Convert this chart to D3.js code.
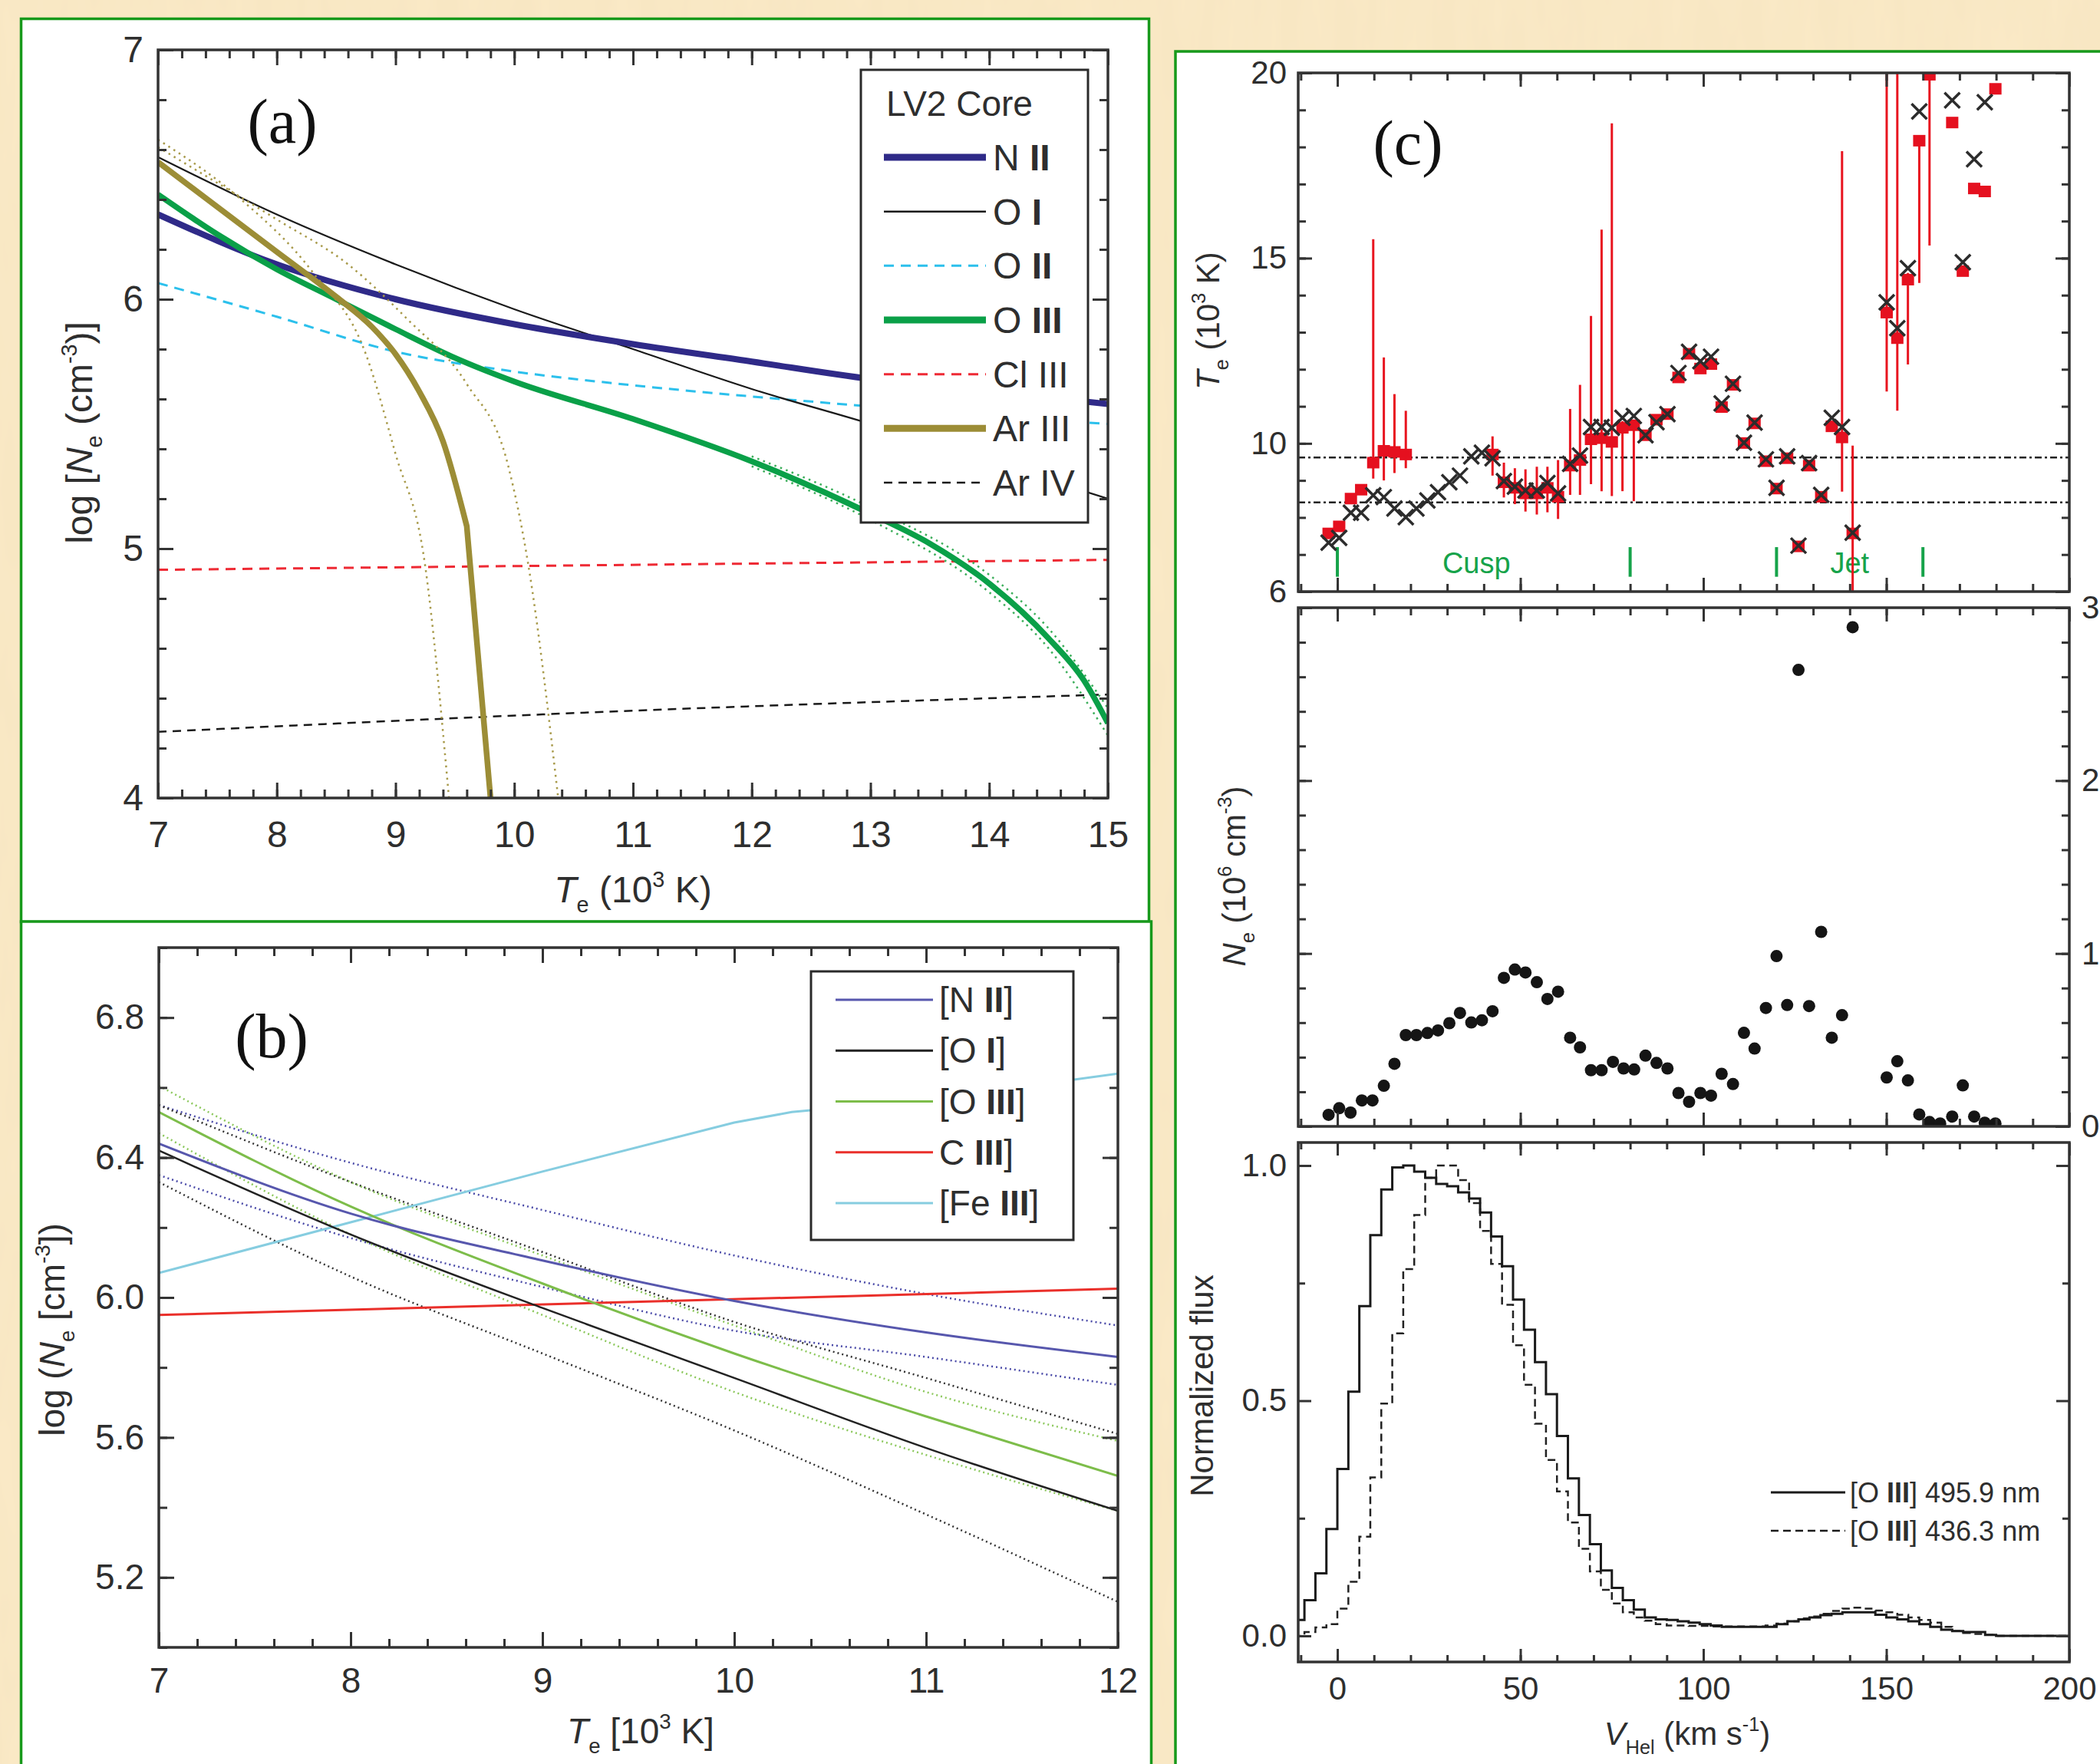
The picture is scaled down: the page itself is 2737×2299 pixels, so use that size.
<!DOCTYPE html>
<html>
<head>
<meta charset="utf-8">
<script src="https://cdn.jsdelivr.net/npm/d3@7"></script>
<style>
  body { margin: 0; background: #fae9c6; }
  svg { display: block; }
</style>
</head>
<body>
<div id="chart"></div>
<script>
// ---------- panel (a): log Ne vs Te, LV2 core ----------
const teA = [7, 8, 9, 10, 11, 12, 13, 14, 15];
const nIIa = [6.34, 6.14, 6.00, 5.90, 5.82, 5.75, 5.68, 5.63, 5.58];
const oIa = [6.57, 6.34, 6.14, 5.96, 5.80, 5.64, 5.50, 5.35, 5.20];
const oIIa = [6.065, 5.93, 5.79, 5.71, 5.655, 5.61, 5.57, 5.53, 5.50];
const teLinA = [7, 15];
const clIIIa = [4.915, 4.955];
const teArIV = [7, 11, 15];
const arIVa = [4.265, 4.35, 4.415];
const teOIIIa = [7, 7.5, 8, 8.5, 9, 9.5, 10, 11, 12, 13, 13.5, 14, 14.5, 14.8, 15];
const oIIIa = [6.42, 6.26, 6.12, 6.0, 5.88, 5.765, 5.67, 5.52, 5.35, 5.14, 5.02, 4.86, 4.64, 4.47, 4.30];
const teOIIIband = [12, 13, 14, 14.5, 15];
const oIIIaHi = [5.37, 5.165, 4.895, 4.68, 4.36];
const oIIIaLo = [5.33, 5.115, 4.825, 4.60, 4.25];
const teArIII = [7, 7.5, 8, 8.5, 8.8, 9, 9.2, 9.4, 9.6, 9.8];
const arIIIa = [6.55, 6.37, 6.19, 6.01, 5.89, 5.78, 5.63, 5.43, 5.09, 4.0];
const teArLo = [7, 7.7, 8.3, 8.75, 9.0, 9.25, 9.45];
const arIIIaLo = [6.64, 6.40, 6.11, 5.78, 5.38, 4.93, 4.0];
const teArHi = [7, 8, 8.6, 9.1, 9.6, 9.95, 10.12, 10.37];
const arIIIaHi = [6.61, 6.32, 6.14, 5.92, 5.66, 5.33, 4.93, 4.0];

// ---------- panel (b) ----------
const teB = [7, 8, 9, 10, 11, 12];
const nIIb = [6.44, 6.24, 6.106, 5.99, 5.90, 5.83];
const nIIbHi = [6.55, 6.385, 6.25, 6.12, 6.01, 5.92];
const nIIbLo = [6.35, 6.17, 6.03, 5.905, 5.83, 5.75];
const oIb = [6.42, 6.18, 5.97, 5.77, 5.57, 5.39];
const oIbHi = [6.55, 6.33, 6.13, 5.93, 5.77, 5.61];
const oIbLo = [6.33, 6.06, 5.84, 5.62, 5.38, 5.13];
const oIIIb = [6.53, 6.26, 6.04, 5.84, 5.66, 5.49];
const oIIIbHi = [6.605, 6.33, 6.12, 5.92, 5.73, 5.59];
const oIIIbLo = [6.47, 6.18, 5.95, 5.73, 5.55, 5.39];
const teLinB = [7, 12];
const cIIIb = [5.95, 6.025];
const teFe = [7, 8, 9, 10, 10.3, 11, 12];
const feIIIb = [6.07, 6.215, 6.36, 6.50, 6.53, 6.565, 6.64];

// ---------- panel (c) top: Te per velocity bin [V, Te, errLo, errHi] ----------
const teSquares = [
  [-2.4, 7.57], [0.5, 7.76], [3.7, 8.51], [6.5, 8.75], [9.8, 9.48, 9.05, 15.51],
  [12.7, 9.8, 9.0, 12.32], [15.6, 9.77, 9.2, 11.33], [18.7, 9.7, 9.33, 10.88],
  [42.4, 9.7, 9.13, 10.19], [45.5, 8.95, 8.54, 9.48], [48.5, 8.8, 8.36, 9.33],
  [51.4, 8.65, 8.16, 9.3], [54.5, 8.65, 8.08, 9.37], [57.4, 8.8, 8.14, 9.37],
  [60.3, 8.56, 7.96, 9.55], [63.6, 9.4, 8.61, 10.93], [66.3, 9.55, 8.61, 11.58],
  [69.3, 10.11, 8.9, 13.44], [72.2, 10.14, 8.71, 15.77], [75.0, 10.04, 8.58, 18.64],
  [77.9, 10.42, 8.71, 10.6], [81.0, 10.49, 8.44, 10.6], [84.2, 10.22], [87.2, 10.64],
  [90.2, 10.79], [93.2, 11.78], [96.1, 12.42], [99.2, 12.02], [102.1, 12.14],
  [105.0, 10.98], [108.1, 11.58], [111.1, 10.01], [114.0, 10.54], [117.1, 9.52],
  [120.0, 8.78], [122.9, 9.6], [126.0, 7.22], [128.9, 9.4], [132.2, 8.56],
  [135.1, 10.46], [137.9, 10.16, 8.7, 17.89], [140.8, 7.57, 5.5, 9.94],
  [150.1, 13.53, 11.4, 21], [153.0, 12.84, 10.88, 21], [155.9, 14.42, 12.13, 14.6],
  [159.0, 18.17, 14.33, 18.2], [161.8, 19.95, 15.34, 20], [168.0, 18.66],
  [170.9, 14.65], [174.0, 16.88], [176.9, 16.80], [179.8, 19.57]
];
const teCrosses = [
  [-2.4, 7.32], [0.5, 7.45], [3.7, 8.13], [6.5, 8.13], [9.8, 8.6], [12.7, 8.55],
  [15.6, 8.24], [18.7, 8.01], [21.6, 8.24], [24.6, 8.46], [27.5, 8.68], [30.6, 8.95],
  [33.5, 9.13], [36.6, 9.65], [39.5, 9.75], [42.4, 9.6], [45.5, 8.98], [48.5, 8.83],
  [51.4, 8.73], [54.5, 8.73], [57.4, 8.93], [60.3, 8.65], [63.6, 9.45], [66.3, 9.67],
  [69.3, 10.44], [72.2, 10.44], [75.0, 10.42], [77.9, 10.69], [81.0, 10.74],
  [84.2, 10.22], [87.2, 10.57], [90.2, 10.79], [93.2, 11.9], [96.1, 12.47],
  [99.2, 12.22], [102.1, 12.34], [105.0, 11.08], [108.1, 11.61], [111.1, 10.02],
  [114.0, 10.56], [117.1, 9.57], [120.0, 8.80], [122.9, 9.65], [126.0, 7.24],
  [128.9, 9.47], [132.2, 8.61], [135.1, 10.69], [137.9, 10.44], [140.8, 7.59],
  [150.1, 13.81], [153.0, 13.11], [155.9, 14.73], [159.0, 18.96], [168.0, 19.26],
  [170.9, 14.89], [174.0, 17.67], [176.9, 19.21]
];
const teRefLines = [9.62, 8.41];
const regionMarks = [0, 80, 120, 160];
const regionNames = [["Cusp", 38], ["Jet", 140]];

// ---------- panel (c) middle: Ne ----------
const nePoints = [
  [-2.4, 0.067], [0.5, 0.105], [3.6, 0.08], [6.7, 0.15], [9.6, 0.15], [12.7, 0.235],
  [15.6, 0.362], [18.7, 0.528], [21.6, 0.528], [24.6, 0.54], [27.5, 0.555], [30.6, 0.597],
  [33.5, 0.656], [36.6, 0.601], [39.5, 0.614], [42.4, 0.666], [45.5, 0.859], [48.5, 0.907],
  [51.4, 0.89], [54.5, 0.834], [57.4, 0.737], [60.3, 0.779], [63.6, 0.513], [66.3, 0.457],
  [69.3, 0.325], [72.2, 0.325], [75.3, 0.373], [78.2, 0.335], [81.1, 0.329], [84.2, 0.409],
  [87.2, 0.367], [90.2, 0.335], [93.2, 0.193], [96.1, 0.142], [99.2, 0.193], [102.1, 0.178],
  [105.0, 0.304], [108.1, 0.245], [111.1, 0.541], [114.0, 0.45], [117.1, 0.685], [120.0, 0.985],
  [122.9, 0.702], [126.0, 2.64], [128.9, 0.696], [132.2, 1.125], [135.1, 0.513], [137.9, 0.643],
  [140.8, 2.887], [150.1, 0.283], [153.0, 0.377], [155.9, 0.266], [159.0, 0.069], [161.8, 0.025],
  [164.7, 0.017], [168.0, 0.057], [170.9, 0.237], [174.0, 0.057], [176.9, 0.021], [179.8, 0.017]
];

// ---------- panel (c) bottom: line profiles ----------
const velBins = [-12, -9, -6, -3, 0, 3, 6, 9, 12, 15, 18, 21, 24, 27, 30, 33, 36, 39, 42, 45,
  48, 51, 54, 57, 60, 63, 66, 69, 72, 75, 78, 81, 84, 87, 90, 93, 96, 99, 102, 105,
  108, 111, 114, 117, 120, 123, 126, 129, 132, 135, 138, 141, 144, 147, 150, 153, 156, 159, 162, 165,
  168, 171, 174, 177, 180, 183, 186, 189, 192, 195, 198, 201];
const flux4959 = [0.034, 0.076, 0.133, 0.227, 0.355, 0.519, 0.701, 0.852, 0.949, 0.996, 1.0, 0.987, 0.974, 0.961, 0.956, 0.943, 0.93, 0.9, 0.849, 0.786,
  0.715, 0.651, 0.582, 0.514, 0.425, 0.335, 0.257, 0.195, 0.139, 0.102, 0.076, 0.056, 0.039, 0.035, 0.034, 0.031, 0.028, 0.025, 0.022, 0.019,
  0.019, 0.019, 0.019, 0.019, 0.025, 0.031, 0.035, 0.039, 0.044, 0.047, 0.05, 0.05, 0.05, 0.045, 0.039, 0.035, 0.031, 0.025, 0.019, 0.013,
  0.01, 0.008, 0.008, 0.002, 0, 0, 0, 0, 0, 0, 0, 0];
const flux4363 = [0.0, 0.008, 0.018, 0.025, 0.058, 0.115, 0.211, 0.337, 0.494, 0.643, 0.78, 0.895, 0.974, 1.0, 1.0, 0.969, 0.92, 0.861, 0.791, 0.704,
  0.618, 0.534, 0.451, 0.374, 0.307, 0.241, 0.185, 0.137, 0.098, 0.069, 0.05, 0.039, 0.032, 0.025, 0.022, 0.022, 0.021, 0.021, 0.02, 0.02,
  0.02, 0.02, 0.02, 0.022, 0.026, 0.031, 0.037, 0.041, 0.047, 0.053, 0.058, 0.06, 0.058, 0.054, 0.05, 0.045, 0.039, 0.034, 0.028, 0.019,
  0.01, 0.006, 0.004, 0.002, 0, 0, 0, 0, 0, 0, 0, 0];

const font = '"Liberation Sans", Arial, Helvetica, sans-serif';
const serif = '"Liberation Serif", "Times New Roman", serif';
const ink = "#2e2e2e";

const svg = d3.select("#chart").append("svg").attr("width", 2737).attr("height", 2299);
const defs = svg.append("defs");

// parchment background
const paper = defs.append("filter").attr("id", "paper").attr("x", 0).attr("y", 0).attr("width", "100%").attr("height", "100%");
paper.append("feTurbulence").attr("type", "fractalNoise").attr("baseFrequency", "0.03 0.006").attr("numOctaves", 3).attr("seed", 4);
paper.append("feColorMatrix").attr("type", "matrix")
  .attr("values", "0 0 0 0 0.86  0 0 0 0 0.72  0 0 0 0 0.46  0 0 0 0.32 -0.06");
svg.append("rect").attr("width", 2737).attr("height", 2299).attr("fill", "#fae9c6");
svg.append("rect").attr("width", 2737).attr("height", 2299).attr("filter", "url(#paper)");

// white panel frames with green border
const frames = [[27.5, 24.5, 1470, 1177], [27.5, 1201, 1473, 1200], [1532, 67, 1300, 2300]];
svg.selectAll("rect.frame").data(frames).enter().append("rect").attr("class", "frame")
  .attr("x", d => d[0]).attr("y", d => d[1]).attr("width", d => d[2]).attr("height", d => d[3])
  .attr("fill", "#fff").attr("stroke", "#17991b").attr("stroke-width", 3.5);

function clipFor(id, x, y) {
  const [l, r] = x.range(), [b, t] = y.range();
  defs.append("clipPath").attr("id", id).append("rect")
    .attr("x", l).attr("y", t).attr("width", r - l).attr("height", b - t);
  return `url(#${id})`;
}

function axes(x, y, o) {
  const g = svg.append("g");
  const [l, r] = x.range(), [b, t] = y.range();
  const side = (gen, scale, vals, len, fmt, pos, pad) => {
    if (!vals) return;
    const a = gen(scale).tickValues(vals).tickSize(-len).tickPadding(pad || 0)
      .tickFormat(fmt || (() => ""));
    const s = g.append("g").attr("transform", pos).call(a);
    s.select(".domain").remove();
    s.selectAll("line").attr("stroke", "#333").attr("stroke-width", 3);
    s.selectAll("text").attr("font-family", font).attr("font-size", o.fs).attr("fill", ink);
  };
  side(d3.axisBottom, x, o.xMinor, o.minor, null, `translate(0,${b})`);
  side(d3.axisBottom, x, o.xMajor, o.major, o.xFmt, `translate(0,${b})`, o.padX);
  side(d3.axisTop, x, o.xMinor, o.minor, null, `translate(0,${t})`);
  side(d3.axisTop, x, o.xMajor, o.major, null, `translate(0,${t})`);
  side(d3.axisLeft, y, o.yMinor, o.minor, null, `translate(${l},0)`);
  side(d3.axisLeft, y, o.yMajor, o.major, o.yFmt, `translate(${l},0)`, o.padY);
  side(d3.axisRight, y, o.yMinor, o.minor, null, `translate(${r},0)`);
  side(d3.axisRight, y, o.yMajor, o.major, o.yRFmt, `translate(${r},0)`, o.padY);
  g.append("rect").attr("x", l).attr("y", t).attr("width", r - l).attr("height", b - t)
    .attr("fill", "none").attr("stroke", "#333").attr("stroke-width", 3.5);
  return g;
}

function rich(parent, x, y, parts, size, opts = {}) {
  const t = parent.append("text").attr("x", x).attr("y", y)
    .attr("font-family", opts.family || font).attr("font-size", size)
    .attr("text-anchor", opts.anchor || "middle").attr("fill", opts.fill || ink);
  if (opts.rotate) t.attr("transform", `rotate(-90,${x},${y})`);
  parts.forEach(p => {
    const s = t.append("tspan").text(p.t);
    if (p.i) s.attr("font-style", "italic");
    if (p.b) s.attr("font-weight", "bold");
    if (p.sub) s.attr("baseline-shift", -size * 0.28).attr("font-size", size * 0.6);
    if (p.sup) s.attr("baseline-shift", size * 0.42).attr("font-size", size * 0.6);
  });
  return t;
}

function curve(g, xs, ys, xS, yS, st, c) {
  const gen = d3.line().x(d => xS(d[0])).y(d => yS(d[1])).curve(c || d3.curveMonotoneX);
  return g.append("path").attr("d", gen(d3.zip(xs, ys))).attr("fill", "none")
    .attr("stroke", st.color).attr("stroke-width", st.w)
    .attr("stroke-dasharray", st.dash || null).attr("stroke-linecap", st.cap || "butt");
}

const teLabel = [{ t: "T", i: true }, { t: "e", sub: true }, { t: " (10" }, { t: "3", sup: true }, { t: " K)" }];

// ================= panel (a) =================
const xA = d3.scaleLinear().domain([7, 15]).range([206, 1444]);
const yA = d3.scaleLinear().domain([4, 7]).range([1040, 65]);
const pA = svg.append("g").attr("clip-path", clipFor("clipA", xA, yA));

const colA = { nII: "#2f2a88", oI: "#1a1a1a", oII: "#2cc0ec", oIII: "#0aa048", clIII: "#ee2a34", arIII: "#9c8d36", arIV: "#1a1a1a" };
const dotted = "2.5,5.5";
curve(pA, teLinA, clIIIa, xA, yA, { color: colA.clIII, w: 3, dash: "13,9" });
curve(pA, teArIV, arIVa, xA, yA, { color: colA.arIV, w: 2.5, dash: "11,8" });
curve(pA, teA, oIIa, xA, yA, { color: colA.oII, w: 3, dash: "13,9" });
curve(pA, teA, oIa, xA, yA, { color: colA.oI, w: 2.2 });
curve(pA, teA, nIIa, xA, yA, { color: colA.nII, w: 8 });
curve(pA, teOIIIband, oIIIaHi, xA, yA, { color: "#3cae5a", w: 2.5, dash: dotted });
curve(pA, teOIIIband, oIIIaLo, xA, yA, { color: "#3cae5a", w: 2.5, dash: dotted });
curve(pA, teOIIIa, oIIIa, xA, yA, { color: colA.oIII, w: 7.5 });
curve(pA, teArLo, arIIIaLo, xA, yA, { color: "#a89a4a", w: 2.5, dash: dotted });
curve(pA, teArHi, arIIIaHi, xA, yA, { color: "#a89a4a", w: 2.5, dash: dotted });
// Ar III: smooth down to the kink, then a straight drop
const arPts = d3.zip(teArIII, arIIIa);
const arSmooth = d3.line().x(d => xA(d[0])).y(d => yA(d[1])).curve(d3.curveMonotoneX)(arPts.slice(0, -1));
const arLast = arPts[arPts.length - 1];
pA.append("path").attr("d", `${arSmooth}L${xA(arLast[0])},${yA(arLast[1])}`)
  .attr("fill", "none").attr("stroke", colA.arIII).attr("stroke-width", 7.5).attr("stroke-linejoin", "round");

axes(xA, yA, {
  xMajor: d3.range(7, 15.01, 1), xMinor: d3.range(7, 15.01, 0.2),
  yMajor: [4, 5, 6, 7], yMinor: d3.range(4, 7.01, 0.2),
  major: 20, minor: 11, fs: 48, padX: 30, padY: 19, xFmt: d3.format("d"), yFmt: d3.format("d")
});
rich(svg, 825, 1176, teLabel, 48);
rich(svg, 120, 564, [{ t: "log [" }, { t: "N", i: true }, { t: "e", sub: true }, { t: " (cm" }, { t: "-3", sup: true }, { t: ")]" }], 48, { rotate: true });
svg.append("text").attr("x", 368).attr("y", 186).attr("font-family", serif).attr("font-size", 82)
  .attr("text-anchor", "middle").attr("fill", "#111").text("(a)");

// legend (a)
const legA = [
  { n: "N ", r: "II", col: colA.nII, w: 9, b: true },
  { n: "O ", r: "I", col: colA.oI, w: 2.5, b: true },
  { n: "O ", r: "II", col: colA.oII, w: 3, dash: "13,9", b: true },
  { n: "O ", r: "III", col: colA.oIII, w: 9, b: true },
  { n: "Cl ", r: "III", col: colA.clIII, w: 3, dash: "13,9" },
  { n: "Ar ", r: "III", col: colA.arIII, w: 9 },
  { n: "Ar ", r: "IV", col: colA.arIV, w: 2.5, dash: "11,8" }
];
const lgA = svg.append("g");
lgA.append("rect").attr("x", 1122).attr("y", 91).attr("width", 296).attr("height", 590)
  .attr("fill", "#fff").attr("stroke", "#2a2a2a").attr("stroke-width", 3);
lgA.append("text").attr("x", 1155).attr("y", 151).attr("font-family", font).attr("font-size", 46)
  .attr("fill", ink).text("LV2 Core");
const legAy = d3.scaleLinear().domain([0, 6]).range([205, 629]);
legA.forEach((d, i) => {
  const yy = legAy(i);
  lgA.append("line").attr("x1", 1152).attr("x2", 1285).attr("y1", yy).attr("y2", yy)
    .attr("stroke", d.col).attr("stroke-width", d.w).attr("stroke-dasharray", d.dash || null);
  rich(lgA, 1294, yy + 17, [{ t: d.n }, { t: d.r, b: d.b }], 48, { anchor: "start" });
});

// ================= panel (b) =================
const xB = d3.scaleLinear().domain([7, 12]).range([207, 1457]);
const yB = d3.scaleLinear().domain([5, 7]).range([2147, 1235]);
const pB = svg.append("g").attr("clip-path", clipFor("clipB", xB, yB));
const colB = { nII: "#5757ad", oI: "#222", oIII: "#7dbd4a", cIII: "#ea2f2a", feIII: "#86cde0" };
curve(pB, teB, nIIbHi, xB, yB, { color: "#4a4aa8", w: 2.5, dash: "2,4" });
curve(pB, teB, nIIbLo, xB, yB, { color: "#4a4aa8", w: 2.5, dash: "2,4" });
curve(pB, teB, oIbHi, xB, yB, { color: "#333", w: 2.5, dash: "2,4" });
curve(pB, teB, oIbLo, xB, yB, { color: "#333", w: 2.5, dash: "2,4" });
curve(pB, teB, oIIIbHi, xB, yB, { color: "#8cc85c", w: 2.5, dash: "2,4" });
curve(pB, teB, oIIIbLo, xB, yB, { color: "#8cc85c", w: 2.5, dash: "2,4" });
curve(pB, teFe, feIIIb, xB, yB, { color: colB.feIII, w: 3 }, d3.curveLinear);
curve(pB, teLinB, cIIIb, xB, yB, { color: colB.cIII, w: 3 }, d3.curveLinear);
curve(pB, teB, oIb, xB, yB, { color: colB.oI, w: 2.5 });
curve(pB, teB, oIIIb, xB, yB, { color: colB.oIII, w: 3 });
curve(pB, teB, nIIb, xB, yB, { color: colB.nII, w: 3 });

axes(xB, yB, {
  xMajor: d3.range(7, 12.01, 1), xMinor: d3.range(7, 12.01, 0.2),
  yMajor: [5.2, 5.6, 6.0, 6.4, 6.8], yMinor: d3.range(5, 7.01, 0.2),
  major: 20, minor: 11, fs: 46, padX: 26, padY: 19, xFmt: d3.format("d"), yFmt: d3.format(".1f")
});
rich(svg, 835, 2272, [{ t: "T", i: true }, { t: "e", sub: true }, { t: " [10" }, { t: "3", sup: true }, { t: " K]" }], 46);
rich(svg, 84, 1733, [{ t: "log (" }, { t: "N", i: true }, { t: "e", sub: true }, { t: " [cm" }, { t: "-3", sup: true }, { t: "])" }], 46, { rotate: true });
svg.append("text").attr("x", 354).attr("y", 1378).attr("font-family", serif).attr("font-size", 82)
  .attr("text-anchor", "middle").attr("fill", "#111").text("(b)");

const legB = [
  { p: "[N ", r: "II", s: "]", col: colB.nII },
  { p: "[O ", r: "I", s: "]", col: colB.oI },
  { p: "[O ", r: "III", s: "]", col: colB.oIII },
  { p: "C ", r: "III", s: "]", col: colB.cIII },
  { p: "[Fe ", r: "III", s: "]", col: colB.feIII }
];
const lgB = svg.append("g");
lgB.append("rect").attr("x", 1057).attr("y", 1266).attr("width", 342).attr("height", 350)
  .attr("fill", "#fff").attr("stroke", "#2a2a2a").attr("stroke-width", 3);
const legBy = d3.scaleLinear().domain([0, 4]).range([1303, 1568]);
legB.forEach((d, i) => {
  const yy = legBy(i);
  lgB.append("line").attr("x1", 1089).attr("x2", 1216).attr("y1", yy).attr("y2", yy)
    .attr("stroke", d.col).attr("stroke-width", 3);
  rich(lgB, 1224, yy + 16, [{ t: d.p }, { t: d.r, b: true }, { t: d.s }], 46, { anchor: "start" });
});

// ================= panel (c) =================
const xC = d3.scaleLinear().domain([-10.7, 200]).range([1692, 2697]);
const yT = d3.scaleLinear().domain([6, 20]).range([771, 95]);
const yN = d3.scaleLinear().domain([0, 3]).range([1468, 792]);
const yF = d3.scaleLinear().domain([-0.0555, 1.049]).range([2166, 1489]);
const xTicksMaj = [0, 50, 100, 150, 200], xTicksMin = d3.range(-10, 200.01, 10);

// top: temperature
const pT = svg.append("g").attr("clip-path", clipFor("clipT", xC, yT));
pT.selectAll("line.ref").data(teRefLines).enter().append("line")
  .attr("x1", xC.range()[0]).attr("x2", xC.range()[1]).attr("y1", d => yT(d)).attr("y2", d => yT(d))
  .attr("stroke", "#222").attr("stroke-width", 2.5).attr("stroke-dasharray", "9,4,3,4");
pT.selectAll("line.mark").data(regionMarks).enter().append("line")
  .attr("x1", d => xC(d)).attr("x2", d => xC(d)).attr("y1", yT(7.2)).attr("y2", yT(6.4))
  .attr("stroke", "#16a34a").attr("stroke-width", 4);
regionNames.forEach(([name, v]) => {
  pT.append("text").attr("x", xC(v)).attr("y", yT(6.5)).attr("font-family", font).attr("font-size", 38)
    .attr("text-anchor", "middle").attr("fill", "#16a34a").text(name);
});
pT.selectAll("line.err").data(teSquares.filter(d => d.length > 2)).enter().append("line")
  .attr("x1", d => xC(d[0])).attr("x2", d => xC(d[0])).attr("y1", d => yT(d[2])).attr("y2", d => yT(d[3]))
  .attr("stroke", "#e8141f").attr("stroke-width", 3);
pT.selectAll("rect.sq").data(teSquares).enter().append("rect")
  .attr("x", d => xC(d[0]) - 8).attr("y", d => yT(d[1]) - 7.5).attr("width", 16).attr("height", 15)
  .attr("fill", "#e5101f");
pT.selectAll("path.cross").data(teCrosses).enter().append("path")
  .attr("d", "M-10,-10L10,10M-10,10L10,-10")
  .attr("transform", d => `translate(${xC(d[0])},${yT(d[1])})`)
  .attr("stroke", "#2c2c2c").attr("stroke-width", 3.5).attr("fill", "none");
axes(xC, yT, {
  xMajor: xTicksMaj, xMinor: xTicksMin, yMajor: [6, 10, 15, 20], yMinor: d3.range(6, 20.01, 1),
  major: 18, minor: 10, fs: 42, padY: 15, yFmt: d3.format("d")
});
rich(svg, 1589, 418, teLabel, 42, { rotate: true });
svg.append("text").attr("x", 1835).attr("y", 214).attr("font-family", serif).attr("font-size", 82)
  .attr("text-anchor", "middle").attr("fill", "#111").text("(c)");

// middle: density
const pN = svg.append("g").attr("clip-path", clipFor("clipN", xC, yN));
pN.selectAll("circle").data(nePoints).enter().append("circle")
  .attr("cx", d => xC(d[0])).attr("cy", d => yN(d[1])).attr("r", 8).attr("fill", "#151515");
axes(xC, yN, {
  xMajor: xTicksMaj, xMinor: xTicksMin, yMajor: [0, 1, 2, 3], yMinor: d3.range(0, 3.01, 0.2),
  major: 18, minor: 10, fs: 42, padY: 16, yFmt: () => "", yRFmt: d3.format("d")
});
rich(svg, 1623, 1142, [{ t: "N", i: true }, { t: "e", sub: true }, { t: " (10" }, { t: "6", sup: true }, { t: " cm" }, { t: "-3", sup: true }, { t: ")" }], 42, { rotate: true });

// bottom: normalized line profiles
const pF = svg.append("g").attr("clip-path", clipFor("clipF", xC, yF));
const step = d3.line().x(d => xC(d[0])).y(d => yF(d[1])).curve(d3.curveStepAfter);
pF.append("path").attr("d", step(d3.zip(velBins, flux4363))).attr("fill", "none")
  .attr("stroke", "#222").attr("stroke-width", 2.5).attr("stroke-dasharray", "10,6");
pF.append("path").attr("d", step(d3.zip(velBins, flux4959))).attr("fill", "none")
  .attr("stroke", "#1a1a1a").attr("stroke-width", 3);
axes(xC, yF, {
  xMajor: xTicksMaj, xMinor: xTicksMin, yMajor: [0, 0.5, 1.0], yMinor: [0.25, 0.75],
  major: 17, minor: 9, fs: 42, padX: 19, padY: 15, xFmt: d3.format("d"), yFmt: d3.format(".1f")
});
rich(svg, 1581, 1806, [{ t: "Normalized flux" }], 42, { rotate: true });
rich(svg, 2199, 2274, [{ t: "V", i: true }, { t: "Hel", sub: true }, { t: " (km s" }, { t: "-1", sup: true }, { t: ")" }], 42);

const legC = [
  { p: "[O ", r: "III", s: "] 495.9 nm", dash: null, w: 3 },
  { p: "[O ", r: "III", s: "] 436.3 nm", dash: "10,6", w: 2.5 }
];
legC.forEach((d, i) => {
  const yy = 1945 + i * 50;
  svg.append("line").attr("x1", 2308).attr("x2", 2405).attr("y1", yy).attr("y2", yy)
    .attr("stroke", "#1a1a1a").attr("stroke-width", d.w).attr("stroke-dasharray", d.dash);
  rich(svg, 2411, yy + 13, [{ t: d.p }, { t: d.r, b: true }, { t: d.s }], 36, { anchor: "start" });
});
</script>
</body>
</html>
